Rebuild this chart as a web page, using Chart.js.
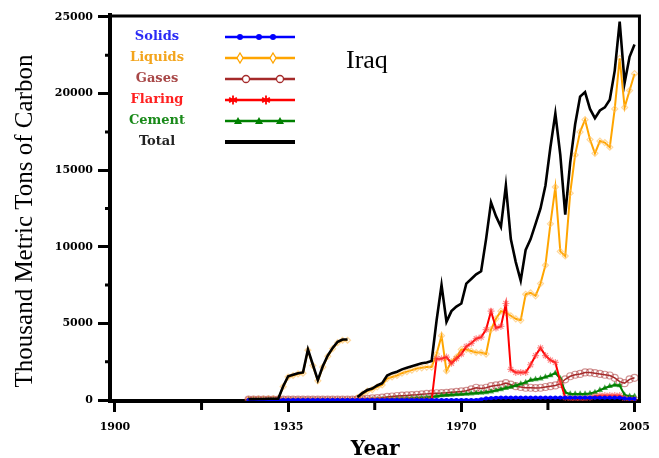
<!DOCTYPE html>
<html>
<head>
<meta charset="utf-8">
<script src="https://cdn.jsdelivr.net/npm/chart.js@4.4.0/dist/chart.umd.min.js"></script>
<style>
  html, body { margin: 0; padding: 0; background: #fff; }
  #wrap { width: 659px; height: 458px; }
</style>
</head>
<body>
<div id="wrap"><canvas id="chart" width="659" height="458"></canvas></div>
<script>
// years 1927..2005
const firstYear = 1927;
const years = Array.from({ length: 79 }, (_, i) => firstYear + i);

const xTicks = [1900, 1935, 1970, 2005];
const xMinorTicks = [1917.5, 1952.5, 1987.5];
const yTicks = [0, 5000, 10000, 15000, 20000, 25000];
const yMinorTicks = [2500, 7500, 12500, 17500, 22500];

const total = [
  60, 60, 70, 70, 80, 80, 90, 900, 1550, 1650,
  1750, 1800, 3300, 2300, 1300, 2200, 2900, 3400, 3800, 3950,
  3950, null, 200, 450, 650, 750, 950, 1100, 1600, 1750,
  1850, 2000, 2100, 2200, 2300, 2400, 2450, 2550, 5200, 7500,
  5100, 5800, 6100, 6300, 7600, 7900, 8200, 8400, 10500, 12900,
  12000, 11300, 14000, 10500, 9000, 7800, 9800, 10500, 11500, 12500,
  14000, 16500, 18700, 16000, 12100, 15500, 18000, 19800, 20100, 19000,
  18400, 18900, 19100, 19600, 21500, 24700, 20700, 22400, 23200
];
const liquids = [
  50, 50, 60, 60, 70, 70, 80, 870, 1500, 1600,
  1700, 1750, 3250, 2250, 1250, 2150, 2850, 3350, 3750, 3900,
  3900, null, 150, 380, 580, 680, 850, 980, 1400, 1500,
  1600, 1750, 1850, 1950, 2050, 2100, 2150, 2150, 3000, 4200,
  1900, 2500, 2800, 3300, 3300, 3200, 3100, 3100, 3000, 4600,
  5300, 5800, 5700, 5500, 5300, 5200, 6900, 7000, 6800, 7600,
  8800, 11500, 13900, 9700, 9400, 13500, 16000, 17500, 18300, 17000,
  16100, 16900, 16800, 16500, 19000, 22300, 19100, 20200, 21300
];
const gases = [
  30, 30, 30, 30, 30, 30, 30, 30, 30, 30,
  30, 30, 30, 30, 30, 30, 30, 30, 30, 30,
  30, 30, 40, 60, 80, 100, 120, 150, 200, 230,
  260, 280, 300, 320, 340, 370, 400, 420, 440, 450,
  470, 500, 530, 560, 600, 700, 800, 750, 800, 900,
  950, 1000, 1100, 1000, 900, 850, 800, 800, 780, 800,
  850, 900, 950, 1050, 1350, 1550, 1650, 1700, 1800, 1800,
  1750, 1700, 1650, 1600, 1450, 1200, 1100, 1350, 1450
];
const flaring = [
  0, 0, 0, 0, 0, 0, 0, 0, 0, 0,
  0, 0, 0, 0, 0, 0, 0, 0, 0, 0,
  0, 0, 0, 0, 0, 0, 0, 0, 0, 0,
  0, 0, 0, 0, 0, 0, 0, 0, 2700, 2700,
  2800, 2400, 2700, 3000, 3500, 3700, 4000, 4100, 4600, 5800,
  4700, 4800, 6300, 2000, 1800, 1800, 1800, 2300, 2900, 3400,
  2900, 2600, 2450, 1200, 150, 100, 100, 100, 100, 150,
  250, 300, 300, 300, 300, 300, 100, 50, 50
];
const cement = [
  10, 10, 10, 10, 10, 10, 10, 10, 10, 10,
  10, 10, 10, 10, 10, 10, 10, 10, 10, 10,
  10, 10, 10, 10, 10, 30, 40, 50, 60, 70,
  80, 90, 100, 110, 130, 150, 170, 200, 250, 300,
  320, 340, 360, 380, 400, 420, 450, 470, 500, 550,
  620, 700, 780, 850, 950, 1050, 1150, 1300, 1350, 1400,
  1500, 1600, 1760, 1400, 500, 400, 400, 400, 400, 420,
  500, 650, 780, 900, 980, 950, 330, 250, 250
];
const solids = [
  0, 0, 0, 0, 0, 0, 0, 0, 0, 0,
  0, 0, 0, 0, 0, 0, 0, 0, 0, 0,
  0, 0, 0, 0, 0, 0, 0, 0, 0, 0,
  0, 0, 0, 0, 0, 0, 0, 0, 0, 0,
  0, 0, 0, 0, 0, 0, 0, 50, 100, 120,
  140, 150, 150, 150, 150, 150, 150, 150, 150, 150,
  150, 150, 150, 150, 150, 150, 150, 150, 150, 150,
  150, 150, 150, 150, 150, 150, 100, 80, 80
];

const pts = arr => arr.map((v, i) => ({ x: years[i], y: v }));

function series(label, data, color, width, style, markColor, radius, fill) {
  return {
    label,
    data: pts(data),
    borderColor: color,
    borderWidth: width,
    pointStyle: style,
    pointRadius: radius,
    pointBorderColor: markColor,
    pointBackgroundColor: fill ? markColor : 'rgba(0,0,0,0)',
    pointBorderWidth: 1.2,
    tension: 0,
    spanGaps: false
  };
}

const legendItems = [
  { text: 'Solids', textColor: '#2b2bf5', color: '#0000ff', mark: 'dot', at: [240, 259, 273] },
  { text: 'Liquids', textColor: '#f3a41c', color: '#ffa500', mark: 'diamond', at: [240, 273] },
  { text: 'Gases', textColor: '#a84848', color: '#a52a2a', mark: 'ring', at: [246, 280] },
  { text: 'Flaring', textColor: '#ff2020', color: '#ff0000', mark: 'star', at: [233, 266] },
  { text: 'Cement', textColor: '#1a8a1a', color: '#008000', mark: 'tri', at: [238, 259, 280] },
  { text: 'Total', textColor: '#222', color: '#000', mark: null, at: [] }
];

function drawMark(ctx, kind, x, y, color) {
  ctx.save();
  ctx.strokeStyle = color;
  ctx.fillStyle = color;
  ctx.lineWidth = 1.3;
  ctx.beginPath();
  if (kind === 'dot') {
    ctx.arc(x, y, 3, 0, Math.PI * 2);
    ctx.fill();
  } else if (kind === 'diamond') {
    ctx.moveTo(x, y - 5); ctx.lineTo(x + 3, y); ctx.lineTo(x, y + 5); ctx.lineTo(x - 3, y); ctx.closePath();
    ctx.fillStyle = '#fff'; ctx.fill(); ctx.stroke();
  } else if (kind === 'ring') {
    ctx.arc(x, y, 3.5, 0, Math.PI * 2);
    ctx.fillStyle = '#fff'; ctx.fill(); ctx.stroke();
  } else if (kind === 'star') {
    for (let k = 0; k < 3; k++) {
      const a = k * Math.PI / 3 + Math.PI / 2;
      ctx.moveTo(x + 4.5 * Math.cos(a), y - 4.5 * Math.sin(a));
      ctx.lineTo(x - 4.5 * Math.cos(a), y + 4.5 * Math.sin(a));
    }
    ctx.lineWidth = 1.8;
    ctx.stroke();
  } else if (kind === 'tri') {
    ctx.moveTo(x, y - 4); ctx.lineTo(x + 4, y + 3); ctx.lineTo(x - 4, y + 3); ctx.closePath();
    ctx.fill();
  }
  ctx.restore();
}

const decorations = {
  id: 'decorations',
  afterDraw(chart) {
    const { ctx, chartArea: a, scales: { x, y } } = chart;
    ctx.save();
    // frame top/right
    ctx.strokeStyle = '#000';
    ctx.lineWidth = 3;
    ctx.beginPath();
    ctx.moveTo(a.left, a.top + 1);
    ctx.lineTo(a.right - 1, a.top + 1);
    ctx.lineTo(a.right - 1, a.bottom);
    ctx.stroke();
    // minor ticks
    ctx.beginPath();
    yMinorTicks.forEach(v => {
      const py = y.getPixelForValue(v);
      ctx.moveTo(a.left - 5, py); ctx.lineTo(a.left, py);
    });
    xMinorTicks.forEach(v => {
      const px = x.getPixelForValue(v);
      ctx.moveTo(px, a.bottom); ctx.lineTo(px, a.bottom + 9);
    });
    ctx.stroke();

    // y axis title
    ctx.save();
    ctx.translate(25, 221);
    ctx.rotate(-Math.PI / 2);
    ctx.fillStyle = '#000';
    ctx.font = '25px "Liberation Serif"';
    ctx.textAlign = 'center';
    ctx.textBaseline = 'middle';
    ctx.fillText('Thousand Metric Tons of Carbon', 0, 0);
    ctx.restore();

    // legend
    ctx.font = 'bold 13px "DejaVu Serif"';
    ctx.textAlign = 'center';
    ctx.textBaseline = 'middle';
    legendItems.forEach((it, i) => {
      const ly = 37 + i * 21;
      ctx.fillStyle = it.textColor;
      ctx.fillText(it.text, 157, ly);
      ctx.strokeStyle = it.color;
      ctx.lineWidth = it.mark ? 2.5 : 4;
      ctx.beginPath();
      ctx.moveTo(225, ly); ctx.lineTo(295, ly);
      ctx.stroke();
      it.at.forEach(mx => drawMark(ctx, it.mark, mx, ly, it.color));
    });

    // country label
    ctx.fillStyle = '#000';
    ctx.font = '26px "Liberation Serif"';
    ctx.textAlign = 'left';
    ctx.textBaseline = 'alphabetic';
    ctx.fillText('Iraq', 346, 68);
    ctx.restore();
  }
};

const tickFont = { family: 'DejaVu Serif', weight: 'bold', size: 11 };

new Chart(document.getElementById('chart'), {
  type: 'line',
  data: {
    datasets: [
      series('Total', total, '#000000', 2.6, 'circle', '#000', 0, false),
      series('Solids', solids, '#0000ff', 2.5, 'circle', '#0000ff', 1.5, true),
      series('Flaring', flaring, '#ff0000', 2, 'star', 'rgba(255,70,70,0.6)', 3.5, false),
      series('Cement', cement, '#008000', 2, 'triangle', 'rgba(0,128,0,0.6)', 2.5, true),
      series('Gases', gases, '#a52a2a', 1.5, 'circle', 'rgba(165,42,42,0.5)', 3.5, false),
      series('Liquids', liquids, '#ffa500', 2, 'rectRot', 'rgba(255,190,90,0.6)', 3, false)
    ]
  },
  options: {
    responsive: false,
    animation: false,
    layout: { padding: { top: 15, right: 15, left: 0, bottom: 0 } },
    plugins: { legend: { display: false }, tooltip: { enabled: false } },
    scales: {
      x: {
        type: 'linear',
        min: 1899,
        max: 2006.2,
        afterBuildTicks: s => { s.ticks = xTicks.map(v => ({ value: v })); },
        afterFit: s => { s.height = 57; },
        ticks: { font: tickFont, color: '#000', padding: 9, maxRotation: 0, autoSkip: false, callback: v => String(v) },
        grid: { display: true, drawOnChartArea: false, drawTicks: true, tickLength: 11, tickWidth: 3, tickColor: '#000' },
        border: { display: true, width: 4, color: '#000' },
        title: {
          display: true, text: 'Year', color: '#000',
          font: { family: 'DejaVu Serif', weight: 'bold', size: 20, lineHeight: 1 },
          padding: { top: 0, bottom: -2 }
        }
      },
      y: {
        type: 'linear',
        min: -65,
        max: 25130,
        afterBuildTicks: s => { s.ticks = yTicks.map(v => ({ value: v })); },
        afterFit: s => { s.width = 110; },
        ticks: { font: tickFont, color: '#000', padding: 5, callback: v => String(v) },
        grid: { display: true, drawOnChartArea: false, drawTicks: true, tickLength: 12, tickWidth: 3, tickColor: '#000' },
        border: { display: true, width: 4, color: '#000' },
        title: { display: false }
      }
    }
  },
  plugins: [decorations]
});
</script>
</body>
</html>
